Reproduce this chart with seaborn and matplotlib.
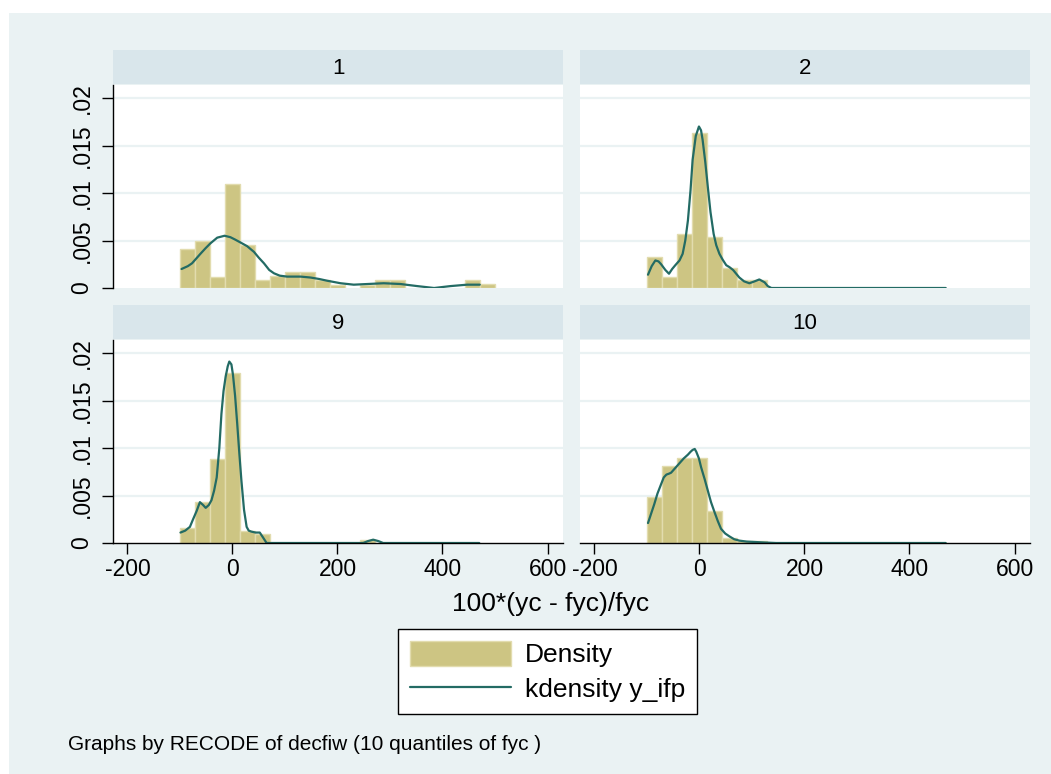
import matplotlib
matplotlib.use('Agg')
import matplotlib.pyplot as plt
from matplotlib.patches import Rectangle, Patch
from matplotlib.lines import Line2D
import numpy as np
import pandas as pd
import seaborn as sns

# groups (deciles of fyc) shown in the panels
groups = ['1', '2', '9', '10']

# common histogram bins: 21 bins from -100 to 500
bin_edges = list(np.linspace(-100, 500, 22))
bin_mids = [(a + b) / 2 for a, b in zip(bin_edges[:-1], bin_edges[1:])]

# bar heights (density)
dens_1 = [0.0041, 0.0049, 0.0012, 0.0109, 0.0045, 0.0008, 0.0013, 0.00165, 0.00165, 0.0008, 0.00035,
          0, 0.00035, 0.00085, 0.00085, 0, 0, 0, 0, 0.00085, 0.00042]
dens_2 = [0.0033, 0.0012, 0.0057, 0.0163, 0.0054, 0.0021, 0.0008, 0.00085, 0, 0, 0,
          0, 0, 0, 0, 0, 0, 0, 0, 0, 0]
dens_9 = [0.0016, 0.0043, 0.0088, 0.0179, 0.0013, 0.00095, 0, 0, 0, 0, 0,
          0, 0.00032, 0, 0, 0, 0, 0, 0, 0, 0]
dens_10 = [0.0048, 0.0081, 0.0089, 0.0089, 0.0034, 0.00053, 0.00025, 0.00025, 0, 0, 0,
           0, 0, 0, 0, 0, 0, 0, 0, 0, 0]

# kernel density curves
kde_x_1 = [-97, -85, -77, -69, -61, -51, -42, -29, -15, -4, 5, 15, 28, 41, 50, 60, 70, 79, 90, 104,
           130, 149, 165, 180, 206, 231, 257, 288, 320, 352, 384, 415, 447, 471]
kde_y_1 = [0.0020, 0.0023, 0.0026, 0.0031, 0.0036, 0.0042, 0.0047, 0.0053, 0.0055, 0.00535, 0.0051,
           0.0048, 0.0044, 0.0038, 0.0032, 0.0026, 0.0019, 0.00155, 0.0013, 0.0012, 0.0012, 0.0011,
           0.00095, 0.00077, 0.0005, 0.00035, 0.00042, 0.0005, 0.00042, 0.0002, 0, 0.0002, 0.00035,
           0.00035]
kde_x_2 = [-98, -91, -84, -78, -73, -65, -58, -52, -46, -38, -32, -27, -22, -17, -13, -7, -1, 3, 6,
           11, 16, 21, 27, 32, 38, 44, 51, 57, 64, 70, 76, 85, 95, 105, 114, 124, 130, 137, 469]
kde_y_2 = [0.0014, 0.0023, 0.0029, 0.0028, 0.0025, 0.0019, 0.0015, 0.0020, 0.0024, 0.0029, 0.0036,
           0.0050, 0.0071, 0.0103, 0.0135, 0.0160, 0.0170, 0.0166, 0.0156, 0.0133, 0.0106, 0.0080,
           0.0057, 0.0045, 0.0036, 0.0030, 0.0024, 0.0022, 0.0019, 0.0015, 0.0011, 0.0007, 0.0005,
           0.0007, 0.0009, 0.0006, 0.0002, 0, 0]
kde_x_9 = [-99, -90, -81, -75, -68, -62, -56, -51, -45, -40, -35, -30, -25, -21, -17, -13, -9, -6,
           -2, 1, 5, 9, 13, 17, 22, 27, 31, 36, 44, 52, 58, 65, 249, 258, 268, 278, 287, 470]
kde_y_9 = [0.0011, 0.0013, 0.0017, 0.0025, 0.0034, 0.0043, 0.0040, 0.0037, 0.0040, 0.0045, 0.0055,
           0.0069, 0.0100, 0.0136, 0.0160, 0.0175, 0.0186, 0.0191, 0.0188, 0.0177, 0.0155, 0.0126,
           0.0095, 0.0066, 0.0035, 0.0017, 0.0013, 0.0012, 0.0011, 0.0011, 0.0006, 0, 0, 0.0002,
           0.00035, 0.0002, 0, 0]
kde_x_10 = [-98, -92, -86, -80, -73, -68, -63, -58, -54, -46, -38, -30, -22, -17, -13, -9, -6, -1, 3,
            10, 16, 22, 29, 35, 41, 49, 57, 66, 76, 90, 108, 125, 146, 469]
kde_y_10 = [0.0021, 0.0031, 0.0041, 0.0052, 0.0062, 0.0069, 0.0072, 0.0073, 0.0074, 0.0079, 0.0084,
            0.0089, 0.0093, 0.0096, 0.0098, 0.0099, 0.0096, 0.0089, 0.0080, 0.0067, 0.0055, 0.0043,
            0.0032, 0.0023, 0.0015, 0.0010, 0.0007, 0.0004, 0.00025, 0.00015, 0.0001, 0.00005, 0, 0]

y_ticks = [0, 0.005, 0.01, 0.015, 0.02]
y_tick_labels = ['0', '.005', '.01', '.015', '.02']
x_ticks = [-200, 0, 200, 400, 600]

hist_df = pd.DataFrame({
    'group': np.repeat(groups, len(bin_mids)),
    'mid': bin_mids * len(groups),
    'density': dens_1 + dens_2 + dens_9 + dens_10,
})
kde_df = pd.concat([
    pd.DataFrame({'group': g, 'x': kx, 'y': ky})
    for g, kx, ky in [('1', kde_x_1, kde_y_1), ('2', kde_x_2, kde_y_2),
                      ('9', kde_x_9, kde_y_9), ('10', kde_x_10, kde_y_10)]
])

sns.set_style('white')
plt.rcParams['font.family'] = ['Liberation Sans', 'DejaVu Sans']
plt.rcParams['text.color'] = 'black'
plt.rcParams['xtick.color'] = 'black'
plt.rcParams['ytick.color'] = 'black'

W, H = 1051, 774
fig = plt.figure(figsize=(W / 100, H / 100), dpi=100)
fig.patch.set_facecolor('white')

bg = '#EAF2F3'
strip_col = '#D9E6EB'
bar_col = '#CDC583'
bar_edge = '#E2DCAE'
line_col = '#236B64'

fig.patches.append(Rectangle((9 / W, 0), 1 - 9 / W, 1 - 13 / H, transform=fig.transFigure,
                             facecolor=bg, edgecolor='none', zorder=-5))


def box(x0, y0, x1, y1):
    return [x0 / W, 1 - y1 / H, (x1 - x0) / W, (y1 - y0) / H]


# pixel boxes: (plot x0, x1, strip y0, strip y1, plot y1)
layout = {
    '1': (113, 563, 50, 84, 288),
    '2': (580, 1030, 50, 84, 288),
    '9': (113, 563, 305, 339, 543),
    '10': (580, 1030, 305, 339, 543),
}

for g in groups:
    x0, x1, s0, s1, p1 = layout[g]
    sax = fig.add_axes(box(x0, s0, x1, s1))
    sax.set_facecolor(strip_col)
    sax.set_xticks([])
    sax.set_yticks([])
    for sp in sax.spines.values():
        sp.set_visible(False)
    sax.text(0.5, 0.45, g, ha='center', va='center', fontsize=16, transform=sax.transAxes)

    ax = fig.add_axes(box(x0, s1 + 1, x1, p1))
    ax.set_facecolor('white')
    for y in y_ticks[1:]:
        ax.axhline(y, color=bg, lw=1.6, zorder=0)
    sns.histplot(data=hist_df[hist_df.group == g], x='mid', weights='density', bins=bin_edges,
                 stat='count', color=bar_col, edgecolor=bar_edge, linewidth=1, alpha=1, ax=ax)
    for p in ax.patches:
        if p.get_height() == 0:
            p.set_visible(False)
    sns.lineplot(data=kde_df[kde_df.group == g], x='x', y='y', color=line_col, lw=1.6,
                 sort=False, ax=ax)
    ax.set_xlim(-227.5, 629.5)
    ax.set_ylim(0, 0.02137)
    ax.set_xlabel('')
    ax.set_ylabel('')
    ax.spines['top'].set_visible(False)
    ax.spines['right'].set_visible(False)

    if g in ('1', '9'):
        ax.set_yticks(y_ticks)
        ax.set_yticklabels(y_tick_labels, rotation=90, va='center', fontsize=16.5)
        ax.tick_params(axis='y', length=8, width=1, pad=6, color='black', left=True)
        ax.spines['left'].set_color('black')
        ax.spines['left'].set_linewidth(1)
    else:
        ax.set_yticks([])
        ax.spines['left'].set_visible(False)

    if g in ('9', '10'):
        ax.set_xticks(x_ticks)
        ax.set_xticklabels([str(t) for t in x_ticks], fontsize=16.5)
        ax.tick_params(axis='x', length=8, width=1, pad=3, color='black', bottom=True)
        ax.spines['bottom'].set_color('black')
        ax.spines['bottom'].set_linewidth(1)
    else:
        ax.set_xticks([])
        ax.spines['bottom'].set_visible(False)

fig.text(551 / W, 1 - 604 / H, '100*(yc - fyc)/fyc', ha='center', va='center', fontsize=19)

handles = [Patch(facecolor=bar_col, edgecolor=bar_edge, lw=1),
           Line2D([], [], color=line_col, lw=1.6)]
leg = fig.legend(handles, ['Density', 'kdensity y_ifp'], loc='upper left',
                 bbox_to_anchor=(398 / W, 1 - 629 / H), bbox_transform=fig.transFigure,
                 frameon=True, fancybox=False, edgecolor='black', framealpha=1,
                 fontsize=19, handlelength=3.85, handleheight=1.08, handletextpad=0.5,
                 labelspacing=0.32, borderpad=0.45, borderaxespad=0)
leg.get_frame().set_linewidth(1)

fig.text(68 / W, 1 - 745 / H, 'Graphs by RECODE of decfiw (10 quantiles of fyc )',
         ha='left', va='center', fontsize=15)

fig.savefig('out.png', dpi=100, facecolor=fig.get_facecolor())
